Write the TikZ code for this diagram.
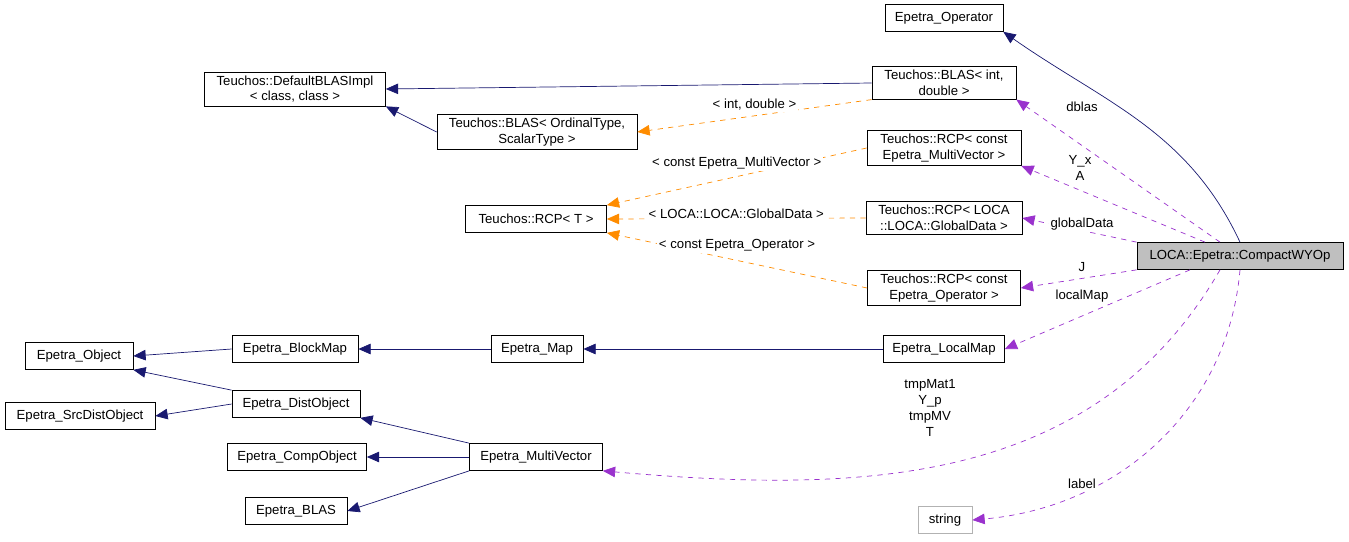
\documentclass[tikz,border=0pt]{standalone}
\usepackage{fontspec}
\setmainfont{Liberation Sans}
\usetikzlibrary{arrows.meta}
\begin{document}
\begin{tikzpicture}[
    x=0.02cm, y=-0.02cm,
    box/.style={rectangle, draw=black, fill=white, align=center, inner xsep=4pt, inner ysep=2pt, font=\fontsize{7.5}{9}\selectfont},
    inherit/.style={draw={rgb,255:red,25;green,25;blue,112}, -{Triangle[length=7pt,width=6pt]}},
    templ/.style={draw=orange!90!yellow, dashed, -{Triangle[length=7pt,width=6pt]}},
    uses/.style={draw={rgb,255:red,154;green,50;blue,205}, dashed, -{Triangle[length=7pt,width=6pt]}},
    lbl/.style={font=\fontsize{7.5}{9}\selectfont, align=center, fill=white, inner sep=1pt}
]
\useasboundingbox (0,0) rectangle (1349,541);

% Top: operator and BLAS classes
\node (op) [box, minimum width=118*0.02cm, minimum height=27*0.02cm] at (944,18) {Epetra\_Operator};
\node (blasimpl) [box, minimum width=181*0.02cm] at (295,89) {Teuchos::DefaultBLASImpl\\\textless{} class, class \textgreater};
\node (blasid) [box, minimum width=144*0.02cm] at (944,83) {Teuchos::BLAS\textless{} int,\\double \textgreater};
\node (blasot) [box, minimum width=200*0.02cm] at (537,132) {Teuchos::BLAS\textless{} OrdinalType,\\ScalarType \textgreater};

% Middle: RCP templates
\node (rcpt) [box, minimum width=141*0.02cm, minimum height=27*0.02cm] at (536,219) {Teuchos::RCP\textless{} T \textgreater};
\node (rcpmv) [box, minimum width=154*0.02cm] at (944,148) {Teuchos::RCP\textless{} const\\Epetra\_MultiVector \textgreater};
\node (rcpgd) [box, minimum width=156*0.02cm] at (944,218) {Teuchos::RCP\textless{} LOCA\\::LOCA::GlobalData \textgreater};
\node (rcpop) [box, minimum width=153*0.02cm] at (944,288) {Teuchos::RCP\textless{} const\\Epetra\_Operator \textgreater};
\node (wy) [box, fill=gray!50, minimum width=206*0.02cm, minimum height=27*0.02cm] at (1240,256) {LOCA::Epetra::CompactWYOp};

% Bottom: Epetra hierarchy
\node (obj) [box, minimum width=108*0.02cm, minimum height=27*0.02cm] at (79,356) {Epetra\_Object};
\node (bmap) [box, minimum width=126*0.02cm, minimum height=27*0.02cm] at (295,349) {Epetra\_BlockMap};
\node (map) [box, minimum width=92*0.02cm, minimum height=27*0.02cm] at (537,349) {Epetra\_Map};
\node (lmap) [box, minimum width=121*0.02cm, minimum height=27*0.02cm] at (944,349) {Epetra\_LocalMap};
\node (src) [box, minimum width=150*0.02cm, minimum height=27*0.02cm] at (80,416) {Epetra\_SrcDistObject};
\node (dist) [box, minimum width=128*0.02cm, minimum height=27*0.02cm] at (296,404) {Epetra\_DistObject};
\node (comp) [box, minimum width=139*0.02cm, minimum height=27*0.02cm] at (297,457) {Epetra\_CompObject};
\node (mv) [box, minimum width=133*0.02cm, minimum height=27*0.02cm] at (536,457) {Epetra\_MultiVector};
\node (eblas) [box, minimum width=102*0.02cm, minimum height=27*0.02cm] at (296,511) {Epetra\_BLAS};
\node (str) [box, draw=gray!60, minimum width=54*0.02cm, minimum height=27*0.02cm] at (945,520) {string};

% Inheritance
\draw[inherit] (wy.north) to[out=115, in=-35] (op.south east);
\draw[inherit] (blasid.west) -- (blasimpl.east);
\draw[inherit] (blasot.west) -- (blasimpl.south east);
\draw[inherit] (bmap.west) -- (obj.east);
\draw[inherit] (dist.north west) -- (obj.south east);
\draw[inherit] (dist.west) -- (src.east);
\draw[inherit] (map.west) -- (bmap.east);
\draw[inherit] (lmap.west) -- (map.east);
\draw[inherit] (mv.north west) -- (dist.south east);
\draw[inherit] (mv.west) -- (comp.east);
\draw[inherit] (mv.south west) -- (eblas.east);

% Template instances
\draw[templ] (blasid.south west) -- node[lbl, pos=0.5, above=2pt] {\textless{} int, double \textgreater} (blasot.east);
\draw[templ] (rcpmv.west) -- node[lbl, pos=0.5, above=3pt] {\textless{} const Epetra\_MultiVector \textgreater} (rcpt.north east);
\draw[templ] (rcpgd.west) -- node[lbl, pos=0.5, above=-1pt] {\textless{} LOCA::LOCA::GlobalData \textgreater} (rcpt.east);
\draw[templ] (rcpop.west) -- node[lbl, pos=0.5, above=4pt] {\textless{} const Epetra\_Operator \textgreater} (rcpt.south east);

% Usage
\draw[uses] (wy.north) ++(-20,0) coordinate (wya) (wya) -- (blasid.south east);
\node[lbl] at (1082,107) {dblas};
\draw[uses] (wy.north) ++(-35,0) coordinate (wyb) (wyb) -- (rcpmv.south east);
\node[lbl] at (1080,168) {Y\_x\\A};
\draw[uses] (wy.north west) -- (rcpgd.east);
\node[lbl] at (1082,224) {globalData};
\draw[uses] (wy.south west) -- (rcpop.east);
\node[lbl] at (1082,267) {J};
\draw[uses] (wy.south) ++(-50,0) coordinate (wyc) (wyc) -- (lmap.east);
\node[lbl] at (1082,296) {localMap};
\draw[uses] (wy.south) ++(-20,0) coordinate (wyd) (wyd) to[out=-120, in=-5] (mv.south east);
\node[lbl] at (930,408) {tmpMat1\\Y\_p\\tmpMV\\T};
\draw[uses] (wy.south) to[out=-95, in=5] (str.east);
\node[lbl] at (1082,484) {label};

\end{tikzpicture}
\end{document}
